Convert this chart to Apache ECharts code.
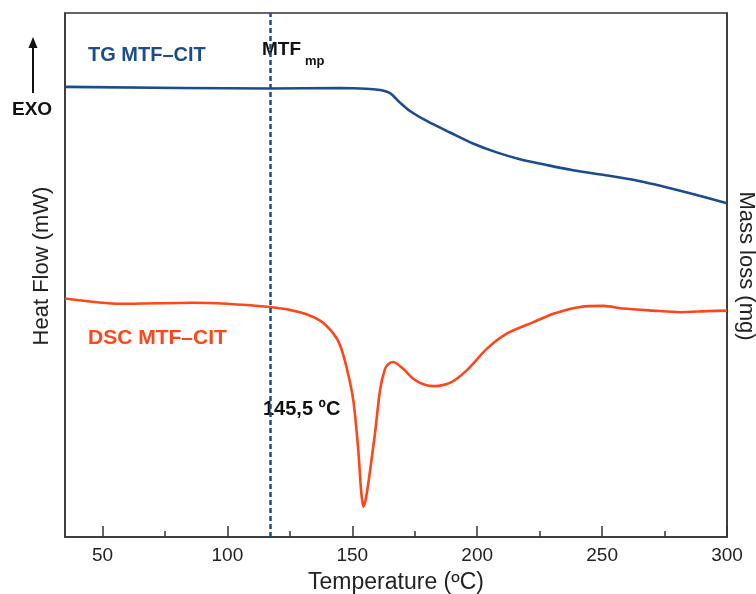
<!DOCTYPE html>
<html>
<head>
<meta charset="utf-8">
<script src="https://cdn.jsdelivr.net/npm/echarts@6/dist/echarts.min.js"></script>
<style>
  html, body { margin: 0; padding: 0; background: #fff; }
  #chart { width: 756px; height: 594px; }
</style>
</head>
<body>
<div id="chart"></div>
<script>
// temperature axis ticks
const majorTicks = [50, 100, 150, 200, 250, 300];
const minorTicks = [75, 125, 175, 225, 275];
const mtfMeltLine = 117; // where the dotted marker sits

// TG curve (relative units)
const tgTemp  = [35, 117.1, 145.1, 157.1, 161.1, 165.1, 169.1, 173.1, 179.8, 189.1, 198.3, 207.8, 217.1, 227.8, 238.4, 251.9, 265.2, 274.4, 285.2, 300];
const tgValue = [85.9, 85.6, 85.7, 85.5, 85.3, 84.7, 82.9, 81.3, 79.4, 77.2, 75.1, 73.4, 72.1, 71.0, 70.0, 69.0, 67.9, 66.9, 65.6, 63.7];

// DSC curve
const dscTemp  = [35, 57.0, 86.2, 117.1, 129.1, 137.1, 142.3, 145.1, 147.8, 150.4, 152.4, 153.5, 154.4, 155.3, 156.4, 159.1, 161.1, 163.1, 164.7, 166.4, 170.4, 174.4, 178.7, 183.1, 189.1, 195.8, 203.8, 211.8, 222.5, 230.5, 241.2, 250.5, 258.5, 270.5, 281.2, 291.9, 300];
const dscValue = [45.5, 44.5, 44.7, 43.9, 42.9, 41.3, 38.9, 36.6, 32.2, 26.1, 16.6, 9.0, 5.8, 7.0, 10.2, 19.8, 28.0, 32.1, 33.1, 33.4, 32.1, 30.2, 29.1, 28.8, 29.4, 31.8, 35.9, 38.8, 41.0, 42.6, 43.9, 44.1, 43.6, 43.2, 42.9, 43.1, 43.2];

const blue = '#1b4c8c';
const orange = '#fd4619';
const font = '"Liberation Sans", Arial, sans-serif';

const chart = echarts.init(document.getElementById('chart'));

const option = {
  animation: false,
  textStyle: { fontFamily: font },
  grid: {
    left: 65, right: 29, top: 13, bottom: 57,
    outerBoundsMode: 'none',
    show: true, borderColor: '#333', borderWidth: 1.5
  },
  xAxis: [
    {
      type: 'value', min: 35, max: 300,
      name: 'Temperature (ºC)', nameLocation: 'middle', nameGap: 34,
      nameTextStyle: { fontSize: 23, color: '#222', fontFamily: font },
      axisLine: { show: true, lineStyle: { color: '#333', width: 1.5 } },
      axisTick: { show: true, inside: true, length: 11, customValues: majorTicks, lineStyle: { color: '#333', width: 1.5 } },
      axisLabel: { customValues: majorTicks, fontSize: 19, color: '#222', margin: 9, fontFamily: font },
      splitLine: { show: false }
    },
    {
      type: 'value', min: 35, max: 300, position: 'bottom',
      axisLine: { show: false },
      axisTick: { show: true, inside: true, length: 6, customValues: minorTicks, lineStyle: { color: '#333', width: 1.5 } },
      axisLabel: { show: false },
      splitLine: { show: false }
    }
  ],
  yAxis: [
    {
      type: 'value', min: 0, max: 100, position: 'left',
      name: 'Heat Flow (mW)', nameLocation: 'middle', nameGap: 12,
      nameTextStyle: { fontSize: 22, color: '#222', fontFamily: font, padding: [0, 0, 0, 18] },
      axisLine: { show: true, lineStyle: { color: '#333', width: 1.5 } },
      axisTick: { show: false }, axisLabel: { show: false }, splitLine: { show: false }
    },
    {
      type: 'value', min: 0, max: 100, position: 'right',
      name: 'Mass loss (mg)', nameLocation: 'middle', nameGap: 8, nameRotate: -90,
      nameTextStyle: { fontSize: 22, color: '#222', fontFamily: font, padding: [0, 18, 0, 0] },
      axisLine: { show: true, lineStyle: { color: '#333', width: 1.5 } },
      axisTick: { show: false }, axisLabel: { show: false }, splitLine: { show: false }
    }
  ],
  series: [
    {
      name: 'DSC MTF–CIT', type: 'line', yAxisIndex: 0,
      data: dscTemp.map((t, i) => [t, dscValue[i]]),
      showSymbol: false, smooth: 0.25,
      lineStyle: { color: orange, width: 2.6 }
    },
    {
      name: 'TG MTF–CIT', type: 'line', yAxisIndex: 1,
      data: tgTemp.map((t, i) => [t, tgValue[i]]),
      showSymbol: false, smooth: 0.3,
      lineStyle: { color: blue, width: 2.6 },
      markLine: {
        silent: true, symbol: 'none',
        label: { show: false },
        lineStyle: { color: blue, type: [5, 3], width: 2.5 },
        data: [{ xAxis: mtfMeltLine }]
      }
    }
  ],
  graphic: [
    { type: 'text', left: 88, top: 45, style: { text: 'TG MTF–CIT', fill: blue, font: 'bold 20px ' + font } },
    { type: 'text', left: 88, top: 328, style: { text: 'DSC MTF–CIT', fill: orange, font: 'bold 21px ' + font } },
    { type: 'text', left: 262, top: 40, style: { text: 'MTF', fill: '#111', font: 'bold 19px ' + font } },
    { type: 'text', left: 305, top: 55, style: { text: 'mp', fill: '#111', font: 'bold 13px ' + font } },
    { type: 'text', left: 263, top: 399, style: { text: '145,5 ºC', fill: '#111', font: 'bold 20px ' + font } },
    { type: 'text', left: 12, top: 100, style: { text: 'EXO', fill: '#111', font: 'bold 19px ' + font } },
    { type: 'line', shape: { x1: 33, y1: 44, x2: 33, y2: 93 }, style: { stroke: '#111', lineWidth: 2 } },
    { type: 'polygon', shape: { points: [[33, 37], [28.5, 48], [37.5, 48]] }, style: { fill: '#111' } }
  ]
};

chart.setOption(option);
</script>
</body>
</html>
